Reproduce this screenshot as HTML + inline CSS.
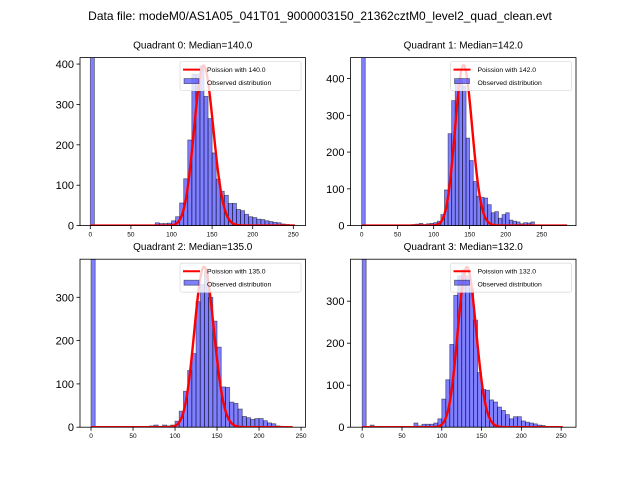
<!DOCTYPE html>
<html><head><meta charset="utf-8"><style>
html,body{margin:0;padding:0;background:#fff;}
svg{display:block;font-family:"Liberation Sans","DejaVu Sans",sans-serif;}
</style></head><body>
<svg id="fig" width="640" height="480" viewBox="0 0 640 480">
<text x="320" y="20" text-anchor="middle" font-size="12">Data file: modeM0/AS1A05_041T01_9000003150_21362cztM0_level2_quad_clean.evt</text>
</svg>
<script>
const binWidth = 5;
const medians = [140.0, 142.0, 135.0, 132.0];
const zeroBin = [1200, 1200, 1200, 1200];
const binStarts0 = [80,85,90,95,100,105,110,115,120,125,130,135,140,145,150,155,160,165,170,175,180,185,190,195,200,205,210,215,220,225,230,235,240,245];
const counts0 = [7,5,5,6,12,22,56,116,212,375,375,395,320,265,180,115,85,75,55,55,40,37,28,22,20,16,15,12,10,8,7,4,3,2];
const binStarts1 = [70,75,80,85,90,95,100,105,110,115,120,125,130,135,140,145,150,155,160,165,170,175,180,185,190,195,200,205,210,215,220,225,230,235,280];
const counts1 = [3,4,6,3,5,6,8,12,30,97,250,340,395,400,380,238,177,120,80,77,75,57,35,38,20,30,35,15,12,10,5,8,7,10,2];
const binStarts2 = [65,70,75,80,85,90,95,100,105,110,115,120,125,130,135,140,145,150,155,160,165,170,175,180,185,190,195,200,205,210,215,220,225,230];
const counts2 = [2,3,5,2,5,3,5,14,37,83,131,170,290,330,360,300,245,185,93,92,58,55,42,25,22,18,20,20,15,10,8,3,2,1];
const binStarts3 = [10,20,65,70,75,80,85,90,95,100,105,110,115,120,125,130,135,140,145,150,155,160,165,170,175,180,185,190,195,200,205,210,215,220,225];
const counts3 = [5,2,10,3,7,7,7,10,20,67,113,197,314,360,375,360,330,255,130,90,88,65,60,48,40,30,20,25,25,15,12,10,8,5,4];
const curvePeaks = [396, 436, 370, 381];
const curveEnds = [252, 285, 240, 252];
const xLimits = [[-12.7,265],[-15.5,297.7],[-13.1,255.3],[-14.7,268.6]];
const yLimits = [416, 457, 388, 400];
const xTicks = [0,50,100,150,200,250];
const yTicks = [[0,100,200,300,400],[0,100,200,300,400],[0,100,200,300],[0,100,200,300]];

const NS="http://www.w3.org/2000/svg";
const svg=document.getElementById('fig');
function mk(tag,attrs,parent){const e=document.createElementNS(NS,tag);for(const k in attrs)e.setAttribute(k,attrs[k]);(parent||svg).appendChild(e);return e;}
function lgamma(z){
  return (z-0.5)*Math.log(z)-z+0.5*Math.log(2*Math.PI)+1/(12*z)-1/(360*z*z*z);
}
function poissonShape(k,lam){
  const lp=(x)=>x*Math.log(lam)-lam-lgamma(x+1);
  return Math.exp(lp(k)-lp(lam));
}
const starts=[binStarts0,binStarts1,binStarts2,binStarts3];
const counts=[counts0,counts1,counts2,counts3];
const axW=225.5, axH=168;
const origins=[[80,57.6],[350.5,57.6],[80,259.2],[350.5,259.2]];

for(let q=0;q<4;q++){
  const [ox,oy]=origins[q];
  const [x0,x1]=xLimits[q], y1=yLimits[q];
  const X=v=>ox+(v-x0)/(x1-x0)*axW;
  const Y=v=>oy+axH-v/y1*axH;
  const g=mk('g',{});
  
  
  const cid='clip'+q;
  const cp=mk('clipPath',{id:cid},g); mk('rect',{x:ox,y:oy,width:axW,height:axH},cp);
  const t=mk('text',{x:ox+axW/2,y:oy-9,'text-anchor':'middle','font-size':'10'},g);
  t.textContent='Quadrant '+q+': Median='+medians[q].toFixed(1);
  
  
  const bars=mk('g',{'clip-path':'url(#'+cid+')'},g);
  const allS=[0].concat(starts[q]), allC=[zeroBin[q]].concat(counts[q]);
  for(let i=0;i<allS.length;i++){
    const r=mk('rect',{x:X(allS[i]),y:Y(allC[i]),width:X(allS[i]+binWidth)-X(allS[i]),height:Y(0)-Y(allC[i]),fill:'rgba(0,0,255,0.5)',stroke:'rgba(0,0,0,0.5)','stroke-width':'0.8'},bars);
    
    
  }
  let d='';
  for(let k=0;k<=curveEnds[q];k++){d+=(k?'L':'M')+X(k).toFixed(2)+','+Y(curvePeaks[q]*poissonShape(k,medians[q])).toFixed(2);}
  const p=mk('path',{d:d,fill:'none',stroke:'red','stroke-width':'2.4','clip-path':'url(#'+cid+')'},g);
  
  
  mk('rect',{x:ox,y:oy,width:axW,height:axH,fill:'none',stroke:'#000','stroke-width':'0.8'},g);
  xTicks.forEach(v=>{ if(v<x0||v>x1)return;
    mk('line',{x1:X(v),x2:X(v),y1:oy+axH,y2:oy+axH+3.5,stroke:'#000','stroke-width':'0.8'},g);
    const tt=mk('text',{x:X(v),y:oy+axH+11,'text-anchor':'middle','font-size':'6.5'},g);tt.textContent=v;
    
    
  });
  yTicks[q].forEach(v=>{
    mk('line',{x1:ox-3.5,x2:ox,y1:Y(v),y2:Y(v),stroke:'#000','stroke-width':'0.8'},g);
    const tt=mk('text',{x:ox-6,y:Y(v)+4,'text-anchor':'end','font-size':'11'},g);tt.textContent=v;
    
    
  });
  const lg=mk('g',{},g);
  
  
  const lx=ox+100, ly=oy+4;
  mk('rect',{x:lx,y:ly,width:121,height:29,rx:2,fill:'rgba(255,255,255,0.8)',stroke:'#ddd','stroke-width':'0.8'},lg);
  mk('line',{x1:lx+3,x2:lx+20,y1:ly+8,y2:ly+8,stroke:'red','stroke-width':'2'},lg);
  mk('rect',{x:lx+4,y:ly+17,width:15,height:5,fill:'rgba(0,0,255,0.5)',stroke:'rgba(0,0,0,0.5)','stroke-width':'0.8'},lg);
  const l1=mk('text',{x:lx+27,y:ly+10.5,'font-size':'6.8'},lg);l1.textContent='Poission with '+medians[q].toFixed(1);
  const l2=mk('text',{x:lx+27,y:ly+23.5,'font-size':'6.8'},lg);l2.textContent='Observed distribution';
}
</script>
</body></html>
